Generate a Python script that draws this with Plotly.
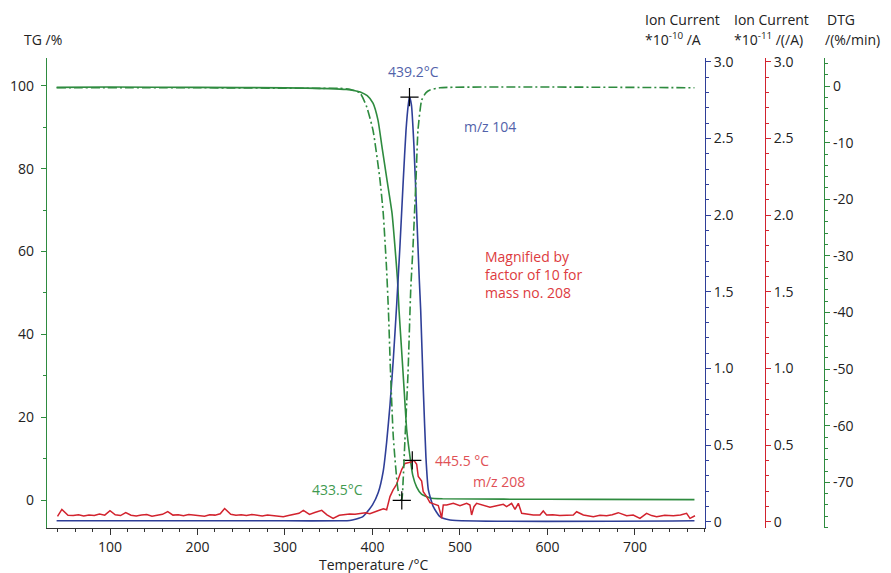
import plotly.graph_objects as go

# colours of the curves / axes
green = '#2e8b3f'
blue = '#2f3f98'
red = '#d2232e'

# TG curve (%)
tg_t = [39, 100, 200, 300, 350, 370, 380, 386, 394, 400.6, 406.3, 410.9, 416.6, 422.3, 425.7,
        428.6, 430.3, 433.5, 436.5, 439.1, 442.9, 446, 450.5, 456, 465.7, 480, 550, 650, 768]
tg_v = [99.6, 99.7, 99.6, 99.5, 99.3, 99.1, 98.8, 98.5, 97.6, 95.8, 91.7, 85.2, 77.2, 69.3, 61.1,
        53.1, 46.0, 35.5, 25.5, 17.0, 10.4, 6.0, 3.1, 1.4, 0.5, 0.3, 0.2, 0.15, 0.1]

# DTG curve (%/min)
dtg_t = [39, 200, 340, 363, 375, 385.7, 393, 400.6, 408.6, 412.3, 416, 418.3, 420.5, 423.8, 429.3,
         433.5, 434.9, 437.1, 440.6, 443.7, 446.3, 449.7, 452, 456.2, 461, 465.7, 477, 768]
dtg_v = [-0.3, -0.3, -0.4, -0.4, -0.6, -1.2, -3.5, -7.8, -16.6, -22.5, -32, -40, -50, -62, -71.4,
         -73.2, -70.1, -62.5, -50.7, -36, -28.4, -16.6, -7.8, -2.5, -1.2, -0.7, -0.3, -0.3]

# m/z 104 ion current (*1e-10 A)
mz104_t = [39, 300, 363, 374, 389, 400, 406.6, 412.3, 416.2, 420, 423.8, 427.7, 431.4, 435.2,
           438.3, 440.9, 442.3, 444.5, 447.4, 450.5, 453.5, 455.1, 458.1, 461.1, 463.8, 469.5,
           477.1, 488.6, 768]
mz104_v = [0.006, 0.006, 0.006, 0.008, 0.033, 0.11, 0.19, 0.33, 0.52, 0.76, 1.06, 1.42, 1.80,
           2.23, 2.55, 2.72, 2.77, 2.72, 2.45, 2.01, 1.58, 1.38, 0.86, 0.42, 0.21, 0.098,
           0.033, 0.011, 0.006]

# m/z 208 ion current (*1e-11 A), noisy trace
mz208_t = [40, 45, 52, 58, 64, 70, 76, 82, 88, 94, 100, 106, 112, 118, 124, 130, 136, 142, 148,
           154, 160, 166, 172, 178, 184, 190, 196, 202, 208, 214, 220, 226, 231, 238, 244, 250,
           256, 262, 268, 274, 280, 286, 292, 298, 304, 310, 316, 321, 328, 334, 342, 348, 355,
           362, 368, 374, 380, 386, 392, 397, 402, 408.6, 412.4, 416.2, 418, 420, 423.6, 427.7,
           429, 433.4, 437.1, 440, 444.8, 445.5, 448, 450.5, 452.3, 456.2, 458, 461.9, 465.7,
           469.1, 475.2, 477.5, 479, 480.9, 484.8, 492.4, 500, 507.6, 511.4, 513.3, 516, 519,
           526.7, 534.3, 541.9, 549.5, 553.3, 559, 562.9, 566.7, 570.5, 576.2, 583.8, 591.4,
           595.2, 599, 606, 614, 622, 629.5, 633.3, 641, 652.4, 660, 667.6, 674, 680.9, 690.5,
           698, 705.7, 713.3, 719, 724.8, 734, 743.8, 752, 759, 762.9, 768.6]
mz208_v = [0.035, 0.080, 0.042, 0.040, 0.046, 0.038, 0.044, 0.041, 0.050, 0.043, 0.072, 0.045,
           0.040, 0.060, 0.042, 0.038, 0.044, 0.047, 0.036, 0.041, 0.048, 0.066, 0.043, 0.045,
           0.039, 0.047, 0.044, 0.041, 0.036, 0.046, 0.043, 0.052, 0.086, 0.048, 0.042, 0.045,
           0.040, 0.047, 0.043, 0.038, 0.044, 0.041, 0.035, 0.032, 0.040, 0.046, 0.055, 0.074,
           0.048, 0.060, 0.074, 0.045, 0.022, 0.042, 0.045, 0.050, 0.048, 0.054, 0.058, 0.052,
           0.062, 0.076, 0.085, 0.078, 0.120, 0.164, 0.207, 0.245, 0.270, 0.340, 0.380, 0.385,
           0.390, 0.400, 0.395, 0.375, 0.295, 0.265, 0.196, 0.164, 0.125, 0.118, 0.105, 0.060,
           0.022, 0.109, 0.109, 0.120, 0.104, 0.120, 0.109, 0.044, 0.098, 0.120, 0.109, 0.094,
           0.104, 0.113, 0.098, 0.120, 0.080, 0.120, 0.055, 0.050, 0.044, 0.044, 0.070, 0.044,
           0.046, 0.040, 0.044, 0.044, 0.065, 0.044, 0.033, 0.042, 0.039, 0.046, 0.059, 0.039,
           0.044, 0.022, 0.055, 0.040, 0.033, 0.042, 0.039, 0.044, 0.055, 0.022, 0.039]

# marked peaks
peak104 = (442.3, 2.77)
peak208 = (445.5, 0.40)
peak_dtg = (433.5, -73.2)

font = 'Open Sans, Noto Sans, sans-serif'
tickfont = dict(family=font, size=14, color='#222')

layout = go.Layout(
    width=891,
    height=573,
    autosize=False,
    margin=dict(l=47, r=67, t=58, b=45),
    paper_bgcolor='white',
    plot_bgcolor='white',
    showlegend=False,
    font=dict(family=font, size=14, color='#222'),
    xaxis=dict(domain=[0, 0.8468], range=[28, 780], anchor='y', automargin=False,
               showline=True, linecolor='#333', linewidth=1.2,
               ticks='outside', ticklen=6, tickcolor='#333', tick0=0, dtick=100,
               minor=dict(ticks='outside', ticklen=3, tickcolor='#333', tick0=0, dtick=20),
               showgrid=False, zeroline=False, tickfont=tickfont),
    yaxis=dict(range=[-6.76, 106.7], showline=True, linecolor=green, linewidth=1.2,
               ticks='outside', ticklen=5, tickcolor=green, tick0=0, dtick=20, automargin=False,
               minor=dict(ticks='outside', ticklen=3, tickcolor=green, tick0=0, dtick=10),
               showgrid=False, zeroline=False, tickfont=tickfont, ticklabelstandoff=4),
    yaxis2=dict(range=[-0.041, 3.025], overlaying='y', side='right', anchor='x',
                showline=True, linecolor=blue, linewidth=1.2, automargin=False,
                ticks='outside', ticklen=5, tickcolor=blue, tick0=0, dtick=0.5,
                tickformat='.1f', labelalias={'0.0': '0'},
                minor=dict(ticks='outside', ticklen=3, tickcolor=blue, tick0=0, dtick=0.1),
                showgrid=False, zeroline=False, tickfont=tickfont),
    yaxis3=dict(range=[-0.041, 3.025], overlaying='y', side='right', anchor='free',
                position=0.924, showline=True, linecolor=red, linewidth=1.2, automargin=False,
                ticks='outside', ticklen=5, tickcolor=red, tick0=0, dtick=0.5,
                tickformat='.1f', labelalias={'0.0': '0'},
                minor=dict(ticks='outside', ticklen=3, tickcolor=red, tick0=0, dtick=0.1),
                showgrid=False, zeroline=False, tickfont=tickfont),
    yaxis4=dict(range=[-78.07, 4.96], overlaying='y', side='right', anchor='free',
                position=1.0, showline=True, linecolor=green, linewidth=1.2, automargin=False,
                ticks='outside', ticklen=5, tickcolor=green, tick0=0, dtick=10,
                labelalias={'\u2212%d' % v: '-%d' % v for v in range(10, 80, 10)},
                minor=dict(ticks='outside', ticklen=3, tickcolor=green, tick0=0, dtick=2),
                showgrid=False, zeroline=False, tickfont=tickfont),
)

fig = go.Figure(layout=layout)

# TG and DTG
fig.add_trace(go.Scatter(x=tg_t, y=tg_v, mode='lines', yaxis='y',
                         line=dict(color=green, width=1.6, shape='spline', smoothing=0.5)))
fig.add_trace(go.Scatter(x=dtg_t, y=dtg_v, mode='lines', yaxis='y4',
                         line=dict(color=green, width=1.6, dash='9px,3px,2px,3px',
                                   shape='spline', smoothing=0.5)))
# ion currents
fig.add_trace(go.Scatter(x=mz104_t, y=mz104_v, mode='lines', yaxis='y2',
                         line=dict(color=blue, width=1.6, shape='spline', smoothing=0.5)))
fig.add_trace(go.Scatter(x=mz208_t, y=mz208_v, mode='lines', yaxis='y3',
                         line=dict(color=red, width=1.5)))

# peak markers
cross = dict(symbol='cross-thin', size=13, color='black', line=dict(width=1.2, color='black'))
fig.add_trace(go.Scatter(x=[peak104[0]], y=[peak104[1]], mode='markers', yaxis='y2', marker=cross))
fig.add_trace(go.Scatter(x=[peak208[0]], y=[peak208[1]], mode='markers', yaxis='y3', marker=cross))
fig.add_trace(go.Scatter(x=[peak_dtg[0]], y=[peak_dtg[1]], mode='markers', yaxis='y4', marker=cross))


def label(text, x, y, color='#222', xanchor='left', align='left'):
    fig.add_annotation(text=text, x=x, y=y, xref='paper', yref='paper', showarrow=False,
                       xanchor=xanchor, yanchor='middle', align=align,
                       font=dict(family=font, size=14, color=color))


# axis headers
label('TG /%', -0.0327, 1.0404)
label('Ion Current', 0.7667, 1.0809)
label('*10<sup>-10</sup> /A', 0.7667, 1.0404)
label('Ion Current', 0.8812, 1.0809)
label('*10<sup>-11</sup> /(/A)', 0.8812, 1.0404)
label('DTG', 1.0013, 1.0809)
label('/(%/min)', 0.9983, 1.0404)
label('Temperature /°C', 0.4208, -0.0787, xanchor='center')

# curve labels
label('439.2°C', 0.4714, 0.9709, color='#5262aa', xanchor='center')
label('m/z 104', 0.5701, 0.8532, color='#5262aa', xanchor='center')
label('Magnified by<br>factor of 10 for<br>mass no. 208', 0.5611, 0.5404, color='#dd3b40')
label('445.5 °C', 0.5337, 0.1426, color='#e05055', xanchor='center')
label('m/z 208', 0.5817, 0.1, color='#e05055', xanchor='center')
label('433.5°C', 0.3739, 0.0823, color='#3f9a50', xanchor='center')

# page body has a default 8px margin; drop it so the figure fills the window
fig.write_html('out.html', config={'displayModeBar': False},
               post_script="document.body.style.margin='0';")
